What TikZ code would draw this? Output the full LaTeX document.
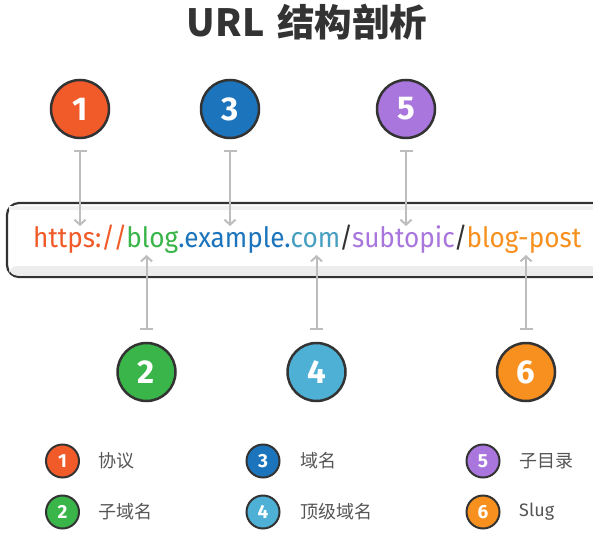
\documentclass[tikz,border=0pt]{standalone}
\usepackage{fontspec}
\setmainfont{Fira Sans}
\newfontfamily\cjk{Noto Sans CJK SC}
\newfontfamily\numfont{Fira Sans}
\usetikzlibrary{arrows.meta}
\definecolor{cOne}{HTML}{F15A29}
\definecolor{cTwo}{HTML}{3AB54A}
\definecolor{cThree}{HTML}{1C75BC}
\definecolor{cFour}{HTML}{4FB0D6}
\definecolor{cFive}{HTML}{A876DC}
\definecolor{cSix}{HTML}{F7901E}
\definecolor{dark}{HTML}{333333}
\definecolor{conngray}{HTML}{BDBDBD}
\definecolor{labgray}{HTML}{555555}
\begin{document}
\begin{tikzpicture}[x=1pt,y=-1pt,
  bigc/.style={circle,draw=dark,line width=2.5pt,minimum size=58pt,inner sep=0pt,
    text=white,font=\numfont\bfseries\fontsize{33}{36}\selectfont},
  smallc/.style={circle,draw=dark,line width=2pt,minimum size=33pt,inner sep=0pt,
    text=white,font=\numfont\bfseries\fontsize{19}{21}\selectfont},
  leglab/.style={anchor=west,inner sep=0pt,text=labgray,font=\cjk\fontsize{18}{20}\selectfont},
  conn/.style={draw=conngray,line width=2pt,{Bar[width=13pt,line width=2pt]}-{Straight Barb[length=5pt,width=11pt,line width=2pt]}},
]
\useasboundingbox (0,0) rectangle (593,540);
\fill[white] (0,0) rectangle (593,540);

% title
\node[font=\cjk\bfseries\fontsize{37.5}{40}\selectfont,text=dark] (title) at (307,22) {URL\hspace{4pt} 结构剖析};

% URL box
\begin{scope}
\clip (0,0) rectangle (593,540);
\draw[dark,line width=2.2pt,rounded corners=12pt,fill=white] (7,203) rectangle (640,277);
\fill[black!6] (9,205.5) rectangle (640,210);
\fill[black!7,rounded corners=8pt] (9,266) rectangle (640,275.5);
\end{scope}

\node[anchor=base west,inner sep=0pt] (url) at (33,247) {\resizebox{548pt}{\height}{\fontsize{28}{32}\selectfont
  \textcolor{cOne}{https:/\kern-1.5pt/}\kern-1pt\textcolor{cTwo}{blog}\textcolor{cThree}{.example.}\textcolor{cFour!90!black}{com}\kern-1pt\textcolor{dark}{/}\kern-1pt\textcolor{cFive}{subtopic}\kern-1pt\textcolor{dark}{/}\kern-1pt\textcolor{cSix}{blog-post}}};

% big circles
\node[bigc,fill=cOne] (c1) at (80,109) {1};
\node[bigc,fill=cThree] (c3) at (230,109) {3};
\node[bigc,fill=cFive] (c5) at (406,109) {5};
\node[bigc,fill=cTwo] (c2) at (146.5,372) {2};
\node[bigc,fill=cFour] (c4) at (316.5,372) {4};
\node[bigc,fill=cSix] (c6) at (526,372) {6};

% arrow targets
\coordinate (t1) at (80,226);
\coordinate (t3) at (230,226);
\coordinate (t5) at (406,226);
\coordinate (t2) at (146.5,255);
\coordinate (t4) at (316.5,255);
\coordinate (t6) at (526,255);

\draw[conn,shorten <=11pt] (c1) -- (t1);
\draw[conn,shorten <=11pt] (c3) -- (t3);
\draw[conn,shorten <=11pt] (c5) -- (t5);
\draw[conn,shorten <=12pt] (c2) -- (t2);
\draw[conn,shorten <=12pt] (c4) -- (t4);
\draw[conn,shorten <=12pt] (c6) -- (t6);

% legend
\node[smallc,fill=cOne] (l1) at (62.5,461) {1};
\node[leglab] (l1t) at (98,461) {协议};
\node[smallc,fill=cTwo] (l2) at (62.5,512) {2};
\node[leglab] (l2t) at (98,512) {子域名};
\node[smallc,fill=cThree] (l3) at (263,461) {3};
\node[leglab] (l3t) at (300,461) {域名};
\node[smallc,fill=cFour] (l4) at (263,512) {4};
\node[leglab] (l4t) at (300,512) {顶级域名};
\node[smallc,fill=cFive] (l5) at (483,461) {5};
\node[leglab] (l5t) at (519,461) {子目录};
\node[smallc,fill=cSix] (l6) at (483,512) {6};
\node[leglab,font=\fontsize{18}{20}\selectfont] (l6t) at (519,512) {Slug};
\end{tikzpicture}
\end{document}
